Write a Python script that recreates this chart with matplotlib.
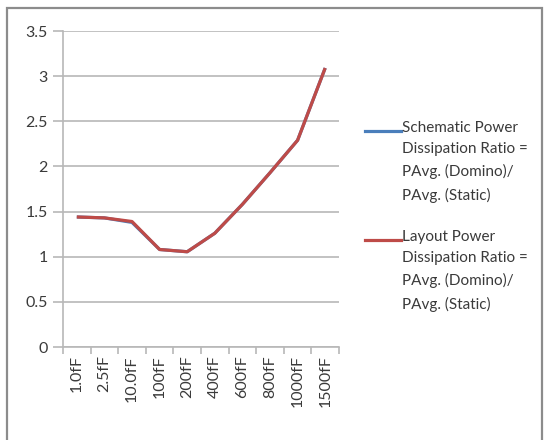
import matplotlib.pyplot as plt
from matplotlib.lines import Line2D
from matplotlib.patches import Rectangle

plt.rcParams['font.family'] = ['Lato', 'DejaVu Sans']

loads = ['1.0fF', '2.5fF', '10.0fF', '100fF', '200fF', '400fF', '600fF', '800fF', '1000fF', '1500fF']
schematic_ratio = [1.44, 1.43, 1.38, 1.08, 1.055, 1.26, 1.58, 1.93, 2.29, 3.09]
layout_ratio = [1.44, 1.43, 1.39, 1.08, 1.055, 1.26, 1.58, 1.93, 2.29, 3.09]
legend_labels = ['Schematic Power\nDissipation Ratio =\nPAvg. (Domino)/\nPAvg. (Static)',
                 'Layout Power\nDissipation Ratio =\nPAvg. (Domino)/\nPAvg. (Static)']

blue = '#4A7EBB'
red = '#BE4B48'
grid_col = '#B8B8B8'
txt_col = '#3A3A3A'

fig = plt.figure(figsize=(5.44, 4.4), dpi=100)
ax = fig.add_axes([63 / 544, 1 - 347 / 440, 276 / 544, 316 / 440])

x = list(range(len(loads)))
ax.plot(x, schematic_ratio, color=blue, lw=2.3, solid_capstyle='butt')
ax.plot(x, layout_ratio, color=red, lw=2.3, solid_capstyle='butt')

ax.set_xlim(-0.5, len(loads) - 0.5)
ax.set_ylim(0, 3.5)
ax.set_yticks([0, 0.5, 1, 1.5, 2, 2.5, 3, 3.5])
ax.set_yticklabels(['0', '0.5', '1', '1.5', '2', '2.5', '3', '3.5'])
ax.yaxis.grid(True, color=grid_col, lw=1.2)
ax.set_axisbelow(True)

ax.set_xticks(x)
ax.set_xticklabels(loads, rotation=90)
ax.set_xticks([i - 0.5 for i in range(len(loads) + 1)], minor=True)
ax.tick_params(axis='x', which='major', length=0, pad=6)
ax.tick_params(axis='x', which='minor', length=5, color=grid_col, width=1.2)
ax.tick_params(axis='y', length=7, color=grid_col, width=1.2, pad=4)
ax.tick_params(labelsize=11.5, labelcolor=txt_col)

for side in ['top', 'right']:
    ax.spines[side].set_visible(False)
for side in ['left', 'bottom']:
    ax.spines[side].set_color(grid_col)
    ax.spines[side].set_linewidth(1.2)

# legend drawn by hand so the key sits beside the first line of each entry
for colour, label, ytop in [(blue, legend_labels[0], 131), (red, legend_labels[1], 240)]:
    fig.add_artist(Line2D([365 / 544, 401 / 544], [1 - ytop / 440] * 2,
                          color=colour, lw=2.3, transform=fig.transFigure))
    fig.text(402 / 544, 1 - (ytop - 10.5) / 440, label, fontsize=11, color=txt_col,
             va='top', ha='left', linespacing=1.68)

# chart frame
fig.add_artist(Rectangle((7 / 544, -0.05), 535 / 544, 1.05 - 8 / 440,
                         transform=fig.transFigure, fill=False,
                         edgecolor='#8C8C8C', lw=1.6))

fig.savefig('out.png', dpi=100)
